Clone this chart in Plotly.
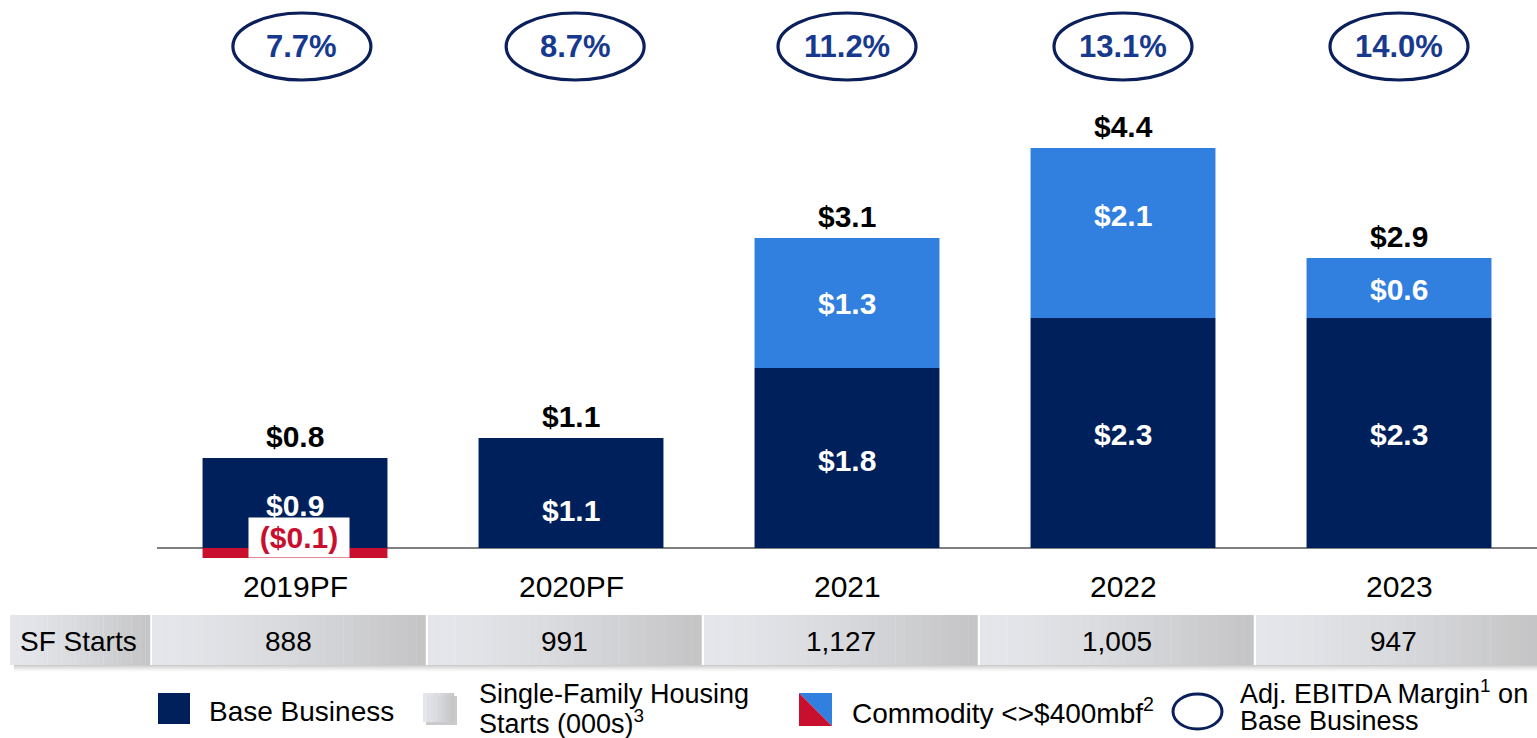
import plotly.graph_objects as go

# ---------------- data ----------------
categories = ["2019PF", "2020PF", "2021", "2022", "2023"]
base_values = [0.9, 1.1, 1.8, 2.3, 2.3]
commodity_values = [-0.1, 0.0, 1.3, 1.7, 0.6]
base_labels = ["$0.9", "$1.1", "$1.8", "$2.3", "$2.3"]
commodity_labels = ["($0.1)", "", "$1.3", "$2.1", "$0.6"]
total_labels = ["$0.8", "$1.1", "$3.1", "$4.4", "$2.9"]
margin_labels = ["7.7%", "8.7%", "11.2%", "13.1%", "14.0%"]
sf_starts = ["888", "991", "1,127", "1,005", "947"]

# ---------------- layout constants ----------------
W, H = 1537, 738
PLOT_L = 157      # px where category -0.5 sits
CAT_W = 276       # px per category
BASE_PX = 548     # px of zero line
UNIT_PX = 100     # px per $1B

NAVY = "#00205B"
BLUE = "#3180E0"
RED = "#C8102E"
RING = "#0B1F5B"
PCT = "#173A8E"
FONT = "Arial, Liberation Sans, sans-serif"

x_range = [-0.5 - PLOT_L / CAT_W, -0.5 + (W - PLOT_L) / CAT_W]
y_range = [-(H - BASE_PX) / UNIT_PX, BASE_PX / UNIT_PX]


def dx(p):
    return (p - PLOT_L) / CAT_W - 0.5


def dy(p):
    return (BASE_PX - p) / UNIT_PX


def mix(c1, c2, t):
    return "rgb(%d,%d,%d)" % tuple(round(a + (b - a) * t) for a, b in zip(c1, c2))


LIGHT = (228, 230, 235)
DARK = (196, 196, 197)

x = list(range(len(categories)))
fig = go.Figure()
fig.add_bar(x=x, y=base_values, width=0.67, marker=dict(color=NAVY, line=dict(width=0)),
            hoverinfo="skip", showlegend=False)
fig.add_bar(x=x, y=commodity_values, width=0.67,
            marker=dict(color=[RED if v < 0 else BLUE for v in commodity_values], line=dict(width=0)),
            hoverinfo="skip", showlegend=False)

shapes = []
ann = []

# zero line
shapes.append(dict(type="line", x0=-0.5, x1=x_range[1], y0=0, y1=0,
                   line=dict(color="#000000", width=1), layer="below"))

# bar labels
base_shift = [-2, -17, -2, -1, -1]
comm_shift = [0, 0, 0, 18, -1]
for i in x:
    b = base_values[i]
    c = commodity_values[i]
    top = b + max(c, 0)
    ann.append(dict(x=i, y=top, text=total_labels[i], showarrow=False, yanchor="middle", yshift=22,
                    font=dict(family=FONT, size=30, color="#000000", weight="bold")))
    ann.append(dict(x=i, y=b / 2, text=base_labels[i], showarrow=False, yanchor="middle",
                    yshift=base_shift[i], font=dict(family=FONT, size=30, color="#FFFFFF", weight="bold")))
    if c > 0:
        ann.append(dict(x=i, y=b + c / 2, text=commodity_labels[i], showarrow=False, yanchor="middle",
                        yshift=comm_shift[i], font=dict(family=FONT, size=30, color="#FFFFFF", weight="bold")))
    elif c < 0:
        ann.append(dict(x=i + 0.015, y=c, text=commodity_labels[i], showarrow=False, yanchor="bottom",
                        width=100, height=39, bgcolor="#FFFFFF", borderpad=0,
                        font=dict(family=FONT, size=30, color=RED, weight="bold")))
    # category label
    ann.append(dict(x=i, y=0, text=categories[i], showarrow=False, yanchor="middle", yshift=-38,
                    font=dict(family=FONT, size=30, color="#000000")))
    # margin ellipse
    off = 0.025 if i == 0 else (0.015 if i == 1 else 0.0)
    shapes.append(dict(type="circle", x0=i - 0.25 + off, x1=i + 0.25 + off, y0=dy(80), y1=dy(13),
                       line=dict(color=RING, width=3.2)))
    ann.append(dict(x=i + off, y=dy(46.5), text=margin_labels[i], showarrow=False, yanchor="middle",
                    font=dict(family=FONT, size=31, color=PCT, weight="bold")))


def gradient_box(x0, x1, y0, y1, n=30, gamma=1.4, layer="below"):
    step = (x1 - x0) / n
    for k in range(n):
        t = ((k + 0.5) / n) ** gamma
        shapes.append(dict(type="rect", x0=x0 + k * step, x1=x0 + (k + 1) * step + step * 0.05,
                           y0=y0, y1=y1, line=dict(width=0), fillcolor=mix(LIGHT, DARK, t), layer=layer))


# SF starts table
row_top, row_bot = dy(615), dy(665)
cells = [(dx(10), dx(150))] + [(i - 0.518, min(i + 0.472, x_range[1])) for i in x]
cells[-1] = (cells[-1][0], x_range[1])
# shadow
for k, op in enumerate([0.35, 0.22, 0.12, 0.05]):
    shapes.append(dict(type="rect", x0=dx(14), x1=x_range[1], y0=dy(665 + k * 1.6 + 1.6), y1=dy(665 + k * 1.6),
                       line=dict(width=0), fillcolor="#6E6E6E", opacity=op, layer="below"))
for (a, b) in cells:
    gradient_box(a, b, row_bot, row_top)
ann.append(dict(x=dx(18), y=dy(641), text="SF Starts", showarrow=False, xanchor="left", yanchor="middle",
                font=dict(family=FONT, size=28, color="#000000")))
for i in x:
    ann.append(dict(x=(cells[i + 1][0] + cells[i + 1][1]) / 2 if i < 4 else i - 0.02, y=dy(641),
                    text=sf_starts[i], showarrow=False, yanchor="middle",
                    font=dict(family=FONT, size=28, color="#000000")))

# ---------------- custom legend ----------------
LEG = dict(family=FONT, size=28, color="#000000")
LEG2 = dict(family=FONT, size=27, color="#000000")
# Base Business
shapes.append(dict(type="rect", x0=dx(158), x1=dx(190), y0=dy(724), y1=dy(693),
                   line=dict(width=0), fillcolor=NAVY))
ann.append(dict(x=dx(207), y=dy(711), text="Base Business", showarrow=False, xanchor="left",
                yanchor="middle", font=LEG))
# Single-family housing starts
shapes.append(dict(type="rect", x0=dx(426), x1=dx(457), y0=dy(725), y1=dy(696),
                   line=dict(width=0), fillcolor="#8A8A8A", opacity=0.45))
gradient_box(dx(423), dx(454), dy(722), dy(693), n=12, layer="above")
ann.append(dict(x=dx(477), y=dy(694), text="Single-Family Housing", showarrow=False, xanchor="left",
                yanchor="middle", font=LEG2))
ann.append(dict(x=dx(477), y=dy(722), text="Starts (000s)<sup>3</sup>", showarrow=False, xanchor="left",
                yanchor="middle", font=LEG2))
# Commodity
cx0, cx1, cy0, cy1 = dx(799), dx(832), dy(726), dy(693)
shapes.append(dict(type="path", path=f"M {cx0},{cy1} L {cx1},{cy1} L {cx1},{cy0} Z",
                   line=dict(width=0), fillcolor=BLUE))
shapes.append(dict(type="path", path=f"M {cx0},{cy1} L {cx0},{cy0} L {cx1},{cy0} Z",
                   line=dict(width=0), fillcolor=RED))
ann.append(dict(x=dx(850), y=dy(711), text="Commodity &lt;&gt;$400mbf<sup>2</sup>", showarrow=False,
                xanchor="left", yanchor="middle", font=LEG))
# Margin ellipse
shapes.append(dict(type="circle", x0=dx(1173), x1=dx(1222), y0=dy(729), y1=dy(694),
                   line=dict(color=RING, width=3)))
ann.append(dict(x=dx(1238), y=dy(692), text="Adj. EBITDA Margin<sup>1</sup> on", showarrow=False,
                xanchor="left", yanchor="middle", font=LEG2))
ann.append(dict(x=dx(1238), y=dy(721), text="Base Business", showarrow=False,
                xanchor="left", yanchor="middle", font=LEG2))

fig.update_layout(
    width=W, height=H,
    margin=dict(l=0, r=0, t=0, b=0),
    paper_bgcolor="#FFFFFF", plot_bgcolor="#FFFFFF",
    barmode="relative",
    xaxis=dict(range=x_range, visible=False, fixedrange=True),
    yaxis=dict(range=y_range, visible=False, fixedrange=True),
    shapes=shapes,
    annotations=ann,
    font=dict(family=FONT),
    showlegend=False,
)

fig.write_html("out.html", config={"displayModeBar": False},
               post_script="document.body.style.margin='0';document.body.style.overflow='hidden';")
